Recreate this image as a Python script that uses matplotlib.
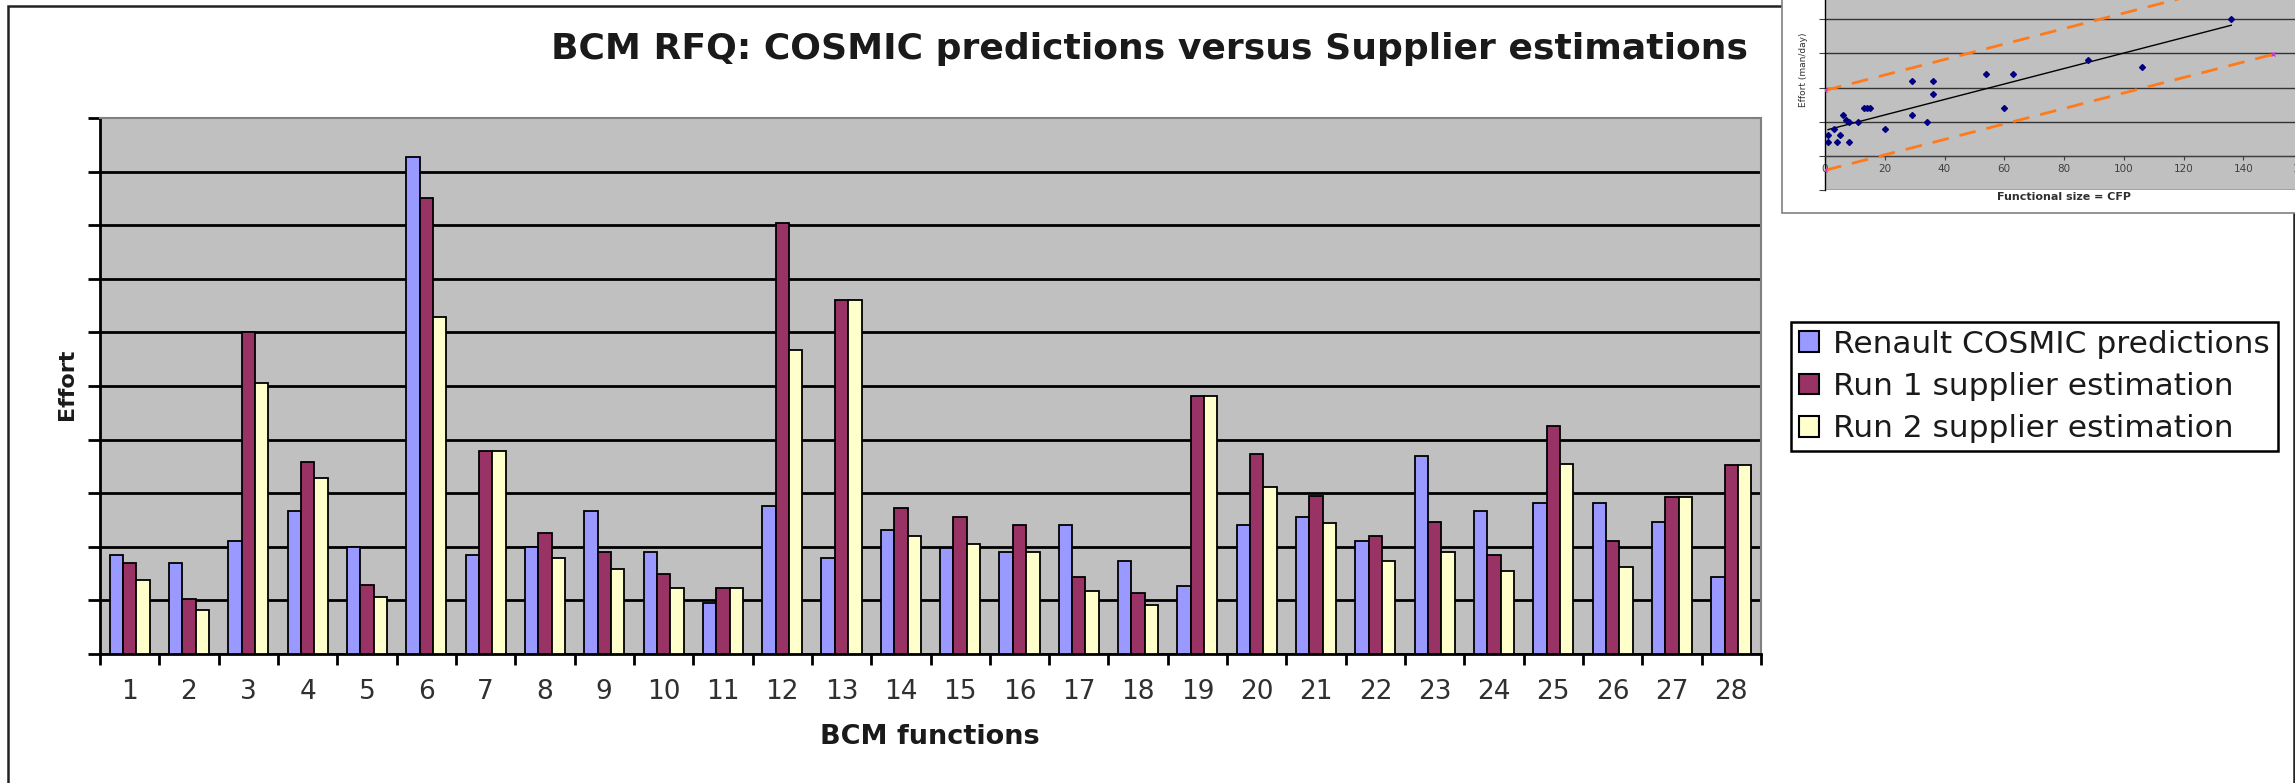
import numpy as np
import matplotlib
matplotlib.use("Agg")
import matplotlib.pyplot as plt
from matplotlib.patches import Rectangle, Patch

W, H = 2295, 783

# main bar chart data (effort, in grid units -- the axis has no printed values)
functions = [str(i) for i in range(1, 29)]
renault = [1.85, 1.69, 2.10, 2.67, 2.00, 9.28, 1.85, 2.00, 2.67, 1.90,
           0.96, 2.76, 1.79, 2.31, 1.98, 1.90, 2.41, 1.74, 1.27, 2.41,
           2.56, 2.10, 3.69, 2.67, 2.82, 2.82, 2.46, 1.43]
run1 = [1.69, 1.03, 6.00, 3.59, 1.29, 8.50, 3.79, 2.26, 1.90, 1.49,
        1.23, 8.05, 6.60, 2.72, 2.56, 2.41, 1.44, 1.13, 4.81, 3.74,
        2.95, 2.20, 2.46, 1.85, 4.25, 2.10, 2.93, 3.53]
run2 = [1.38, 0.82, 5.05, 3.28, 1.07, 6.29, 3.79, 1.79, 1.58, 1.23,
        1.23, 5.67, 6.60, 2.20, 2.05, 1.90, 1.18, 0.91, 4.81, 3.12,
        2.45, 1.74, 1.90, 1.54, 3.54, 1.63, 2.93, 3.53]
series_names = ["Renault COSMIC predictions", "Run 1 supplier estimation",
                "Run 2 supplier estimation"]

# inset scatter: functional size (CFP) vs effort (man/day)
cfp = [136, 88, 106, 54, 63, 29, 36, 36, 60, 29, 34, 13, 14, 15, 6, 7, 8,
       11, 20, 3, 1, 5, 1, 4, 8]
effort = [40, 28, 26, 24, 24, 22, 22, 18, 14, 12, 10, 14, 14, 14, 12, 10.6,
          10, 10, 8, 8, 6, 6, 4, 4, 4]
band_x = [0, 150]
band_half = 11.7


def fx(p):
    return p / W


def fy(p):
    return 1 - p / H


fig = plt.figure(figsize=(W / 100, H / 100), dpi=100)
fig.patch.set_facecolor("white")

# ---- main chart ----
ax = fig.add_axes([fx(100), fy(654), (1761 - 100) / W, (654 - 118) / H])
ax.set_facecolor("#C0C0C0")
x = np.arange(len(functions))
bw = 0.225
colors = ["#9999FF", "#993366", "#FFFFCC"]
for vals, col, off in zip([renault, run1, run2], colors, [-bw, 0, bw]):
    ax.bar(x + off, vals, width=bw, color=col, edgecolor="black",
           linewidth=1.3, zorder=3)

ax.set_xlim(-0.5, len(functions) - 0.5)
ax.set_ylim(0, 10)
ax.set_xticks(np.arange(-0.5, len(functions), 1))
ax.set_xticklabels([])
ax.set_xticks(x, minor=True)
ax.set_xticklabels(functions, minor=True)
ax.tick_params(axis="x", which="major", direction="out", length=8, width=2)
ax.tick_params(axis="x", which="minor", length=0, pad=18, labelsize=19,
               labelcolor="#303030")
ax.set_yticks(range(11))
ax.set_yticklabels([])
ax.tick_params(axis="y", direction="out", length=9, width=2)
ax.set_axisbelow(True)
ax.grid(axis="y", color="black", linewidth=2)
ax.get_ygridlines()[-1].set_visible(False)
for s in ["left", "bottom"]:
    ax.spines[s].set_linewidth(2)
for s in ["top", "right"]:
    ax.spines[s].set_color("#808080")
    ax.spines[s].set_linewidth(1.5)

fig.text(fx(1748), fy(49), "BCM RFQ: COSMIC predictions versus Supplier estimations",
         ha="right", va="center", fontsize=26, fontweight="bold", color="#1a1a1a")
fig.text(fx(67), fy(384), "Effort", rotation=90, ha="center", va="center",
         fontsize=16, fontweight="bold", color="#1a1a1a")
fig.text(fx(930), fy(737), "BCM functions", ha="center", va="center",
         fontsize=19.5, fontweight="bold", color="#1a1a1a")

handles = [Patch(facecolor=c, edgecolor="black", linewidth=1.5) for c in colors]
leg = fig.legend(handles, series_names, loc="upper left",
                 bbox_to_anchor=(fx(1791), fy(322)), fontsize=22.5,
                 frameon=True, fancybox=False, edgecolor="black",
                 framealpha=1, borderpad=0.25, borderaxespad=0,
                 handlelength=0.65, handleheight=0.65, handletextpad=0.45,
                 labelspacing=0.42)
leg.get_frame().set_linewidth(1.8)
for t in leg.get_texts():
    t.set_color("#1a1a1a")

# outer chart frame
fig.add_artist(Rectangle((fx(8), fy(800)), fx(2294) - fx(8), fy(5.7) - fy(800),
                         transform=fig.transFigure, facecolor="none",
                         edgecolor="#222222", linewidth=1.8, zorder=1))

# ---- inset scatter (cut by the picture edge) ----
fig.add_artist(Rectangle((fx(1782), fy(212.6)), 1.05 - fx(1782), 1.05 - fy(212.6),
                         transform=fig.transFigure, facecolor="white",
                         edgecolor="#808080", linewidth=1.2, zorder=4))
iax = fig.add_axes([fx(1825), fy(190), (2303 - 1825) / W, (190 + 49) / H])
iax.set_zorder(5)
iax.set_facecolor("#C0C0C0")
iax.set_xlim(0, 160)
iax.set_ylim(-10, 60)
slope, icpt = np.polyfit(cfp, effort, 1)
fit_x = np.array([min(cfp), max(cfp)])
iax.plot(fit_x, slope * fit_x + icpt, color="black", linewidth=1, zorder=3)
bx = np.array(band_x)
for sgn in (1, -1):
    iax.plot(bx, slope * bx + icpt + sgn * band_half, color="#FF7A1A",
             linewidth=2, dashes=(6, 4), zorder=3)
    iax.plot(bx, slope * bx + icpt + sgn * band_half, linestyle="none",
             marker="x", markersize=3, color="#CC33CC", zorder=4)
iax.plot(cfp, effort, linestyle="none", marker="D", markersize=3,
         color="#000080", zorder=5)
iax.set_xticks(range(0, 161, 20))
iax.set_yticks(range(-10, 61, 10))
iax.set_yticklabels([])
iax.tick_params(axis="x", labelsize=7.5, labelcolor="#404040", length=3,
                pad=3, color="#404040")
iax.tick_params(axis="y", length=4, color="#404040")
iax.grid(axis="y", color="#333333", linewidth=1)
iax.set_axisbelow(True)
iax.spines["top"].set_visible(False)
iax.spines["right"].set_visible(False)
iax.spines["bottom"].set_position(("data", 0))
iax.spines["bottom"].set_color("#404040")
iax.spines["left"].set_linewidth(1)
fig.text(fx(1803), fy(70), "Effort (man/day)", rotation=90, ha="center",
         va="center", fontsize=6.5, color="#303030", zorder=6)
fig.text(fx(2064), fy(197.5), "Functional size = CFP", ha="center",
         va="center", fontsize=8, fontweight="bold", color="#303030", zorder=6)

fig.savefig("out.png", dpi=100)
